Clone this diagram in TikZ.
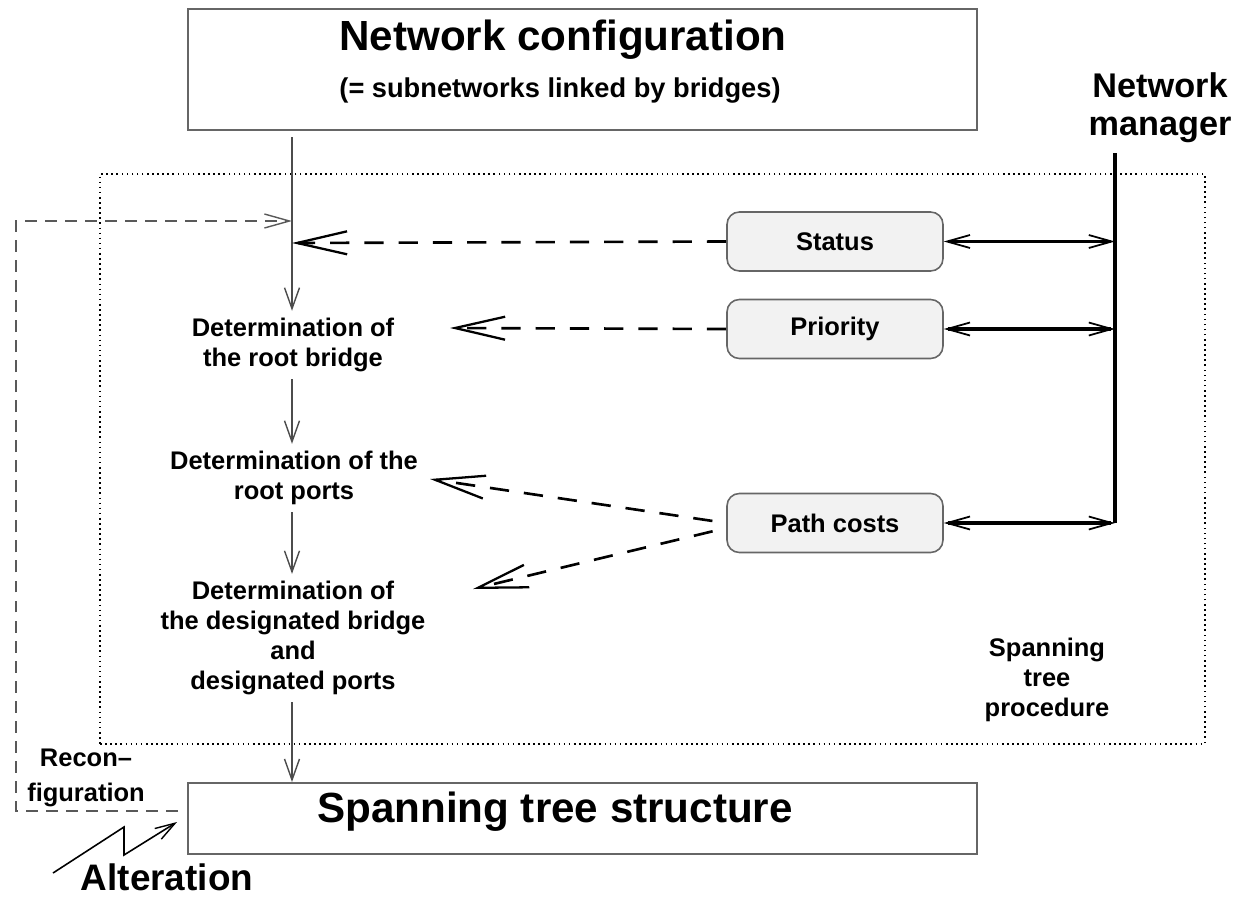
\documentclass[tikz,border=0pt]{standalone}
\usepackage{fontspec}
\setmainfont{Liberation Sans}
\usetikzlibrary{arrows.meta}
\usetikzlibrary{positioning}

\tikzset{
  bigbox/.style={draw=black!60,line width=1.1pt,minimum width=15.78cm},
  param/.style={draw=black!60,fill=black!5,rounded corners=7pt,line width=0.9pt,
    minimum width=4.32cm,minimum height=1.18cm,font=\fontsize{14.5}{17}\selectfont\bfseries},
  stage/.style={align=center,inner sep=4pt,font=\fontsize{14.5}{17}\selectfont\bfseries},
  flow/.style={draw=black!70,line width=1pt,-{Straight Barb[length=0.42cm,width=0.3cm,line width=0.8pt]}},
  query/.style={line width=1.5pt,dash pattern=on 11pt off 8.5pt,
    -{Straight Barb[length=1cm,width=0.46cm,line width=1.3pt]}},
  duplex/.style={line width=2pt,
    {Straight Barb[length=0.46cm,width=0.26cm,line width=1pt]}-{Straight Barb[length=0.46cm,width=0.26cm,line width=1pt]}},
  reconf/.style={draw=black!65,line width=1pt,dash pattern=on 6.8pt off 4.6pt,
    -{Straight Barb[length=0.5cm,width=0.28cm,line width=0.8pt]}},
  bolt/.style={line width=0.9pt,-{Straight Barb[length=0.4cm,width=0.25cm,line width=0.8pt]}}
}

\begin{document}
\begin{tikzpicture}[x=0.02cm,y=-0.02cm]
\useasboundingbox (0,0) rectangle (1246,899);
% procedure frame
\node[draw,dotted,line width=0.9pt,minimum width=22.1cm,minimum height=11.4cm] (frame) at (652.5,459) {};
\node[stage] (proc) at (1047,680) {Spanning\\tree\\procedure};
% configuration and result
\node[bigbox,minimum height=2.42cm] (netconf) at (582.5,69.5) {};
\node[font=\fontsize{24}{28}\selectfont\bfseries] (netconftitle) at (563,40) {Network configuration};
\node[font=\fontsize{15.5}{18}\selectfont\bfseries] (netconfnote) at (560,91) {(= subnetworks linked by bridges)};
\node[bigbox,minimum height=1.42cm] (tree) at (582.5,818.5) {};
\node[font=\fontsize{24}{28}\selectfont\bfseries] (treelabel) at (555,812) {Spanning tree structure};
% stages
\coordinate (col) at (292,137);
\node[stage] (det1) at (293,345) {Determination of\\the root bridge};
\node[stage] (det2) at (294,478) {Determination of the\\root ports};
\node[stage] (det3) at (293,638) {Determination of\\the designated bridge\\and\\designated ports};
\draw[flow] (col) -- (det1.north -| col);
\draw[flow] (det1.south -| col) -- (det2.north -| col);
\draw[flow] (det2.south -| col) -- (det3.north -| col);
\draw[flow] (det3.south -| col) -- (tree.north -| col);
% parameters
\node[param] (status) at (835,241.5) {Status};
\node[param] (priority) at (835,329) {Priority};
\node[param] (pathcosts) at (835,523) {Path costs};
\coordinate (stin) at (292,243);
\coordinate (prin) at (450,328);
\coordinate (pcin1) at (430,479);
\coordinate (pcin2) at (473,589);
\draw[query] (status.west) -- (stin);
\draw[query] (priority.west) -- (prin);
\draw[query,shorten <=0.28cm] (pathcosts.west) -- (pcin1);
\draw[query,shorten <=0.28cm] ([yshift=-0.1cm]pathcosts.west) -- (pcin2);
% network manager
\node[font=\fontsize{19.5}{21.8}\selectfont\bfseries,align=center,inner sep=1pt] (manager) at (1160,108) {Network\\manager};
\coordinate (mtop) at (1115,153);
\coordinate (mbot) at (1115,523);
\draw[line width=2.6pt] (mtop) -- (mbot);
\draw[duplex] (status.east) -- (status.east -| mtop);
\draw[duplex] (priority.east) -- (priority.east -| mtop);
\draw[duplex] (pathcosts.east) -- (mbot);
% reconfiguration
\coordinate (recstart) at (178,811);
\coordinate (recend) at (292,221);
\draw[reconf] (recstart) -- (16,811) |- (recend);
\node[align=center,inner sep=1pt,font=\fontsize{14.5}{20}\selectfont\bfseries] (reconlabel) at (86,778) {Recon--\\figuration};
% alteration
\coordinate (alt) at (53,873);
\draw[bolt] (alt) -- (124,827) -- (124,855) -- (177,822);
\node[font=\fontsize{21}{25}\selectfont\bfseries] (altlabel) at (167,877) {Alteration};
\end{tikzpicture}
\end{document}
